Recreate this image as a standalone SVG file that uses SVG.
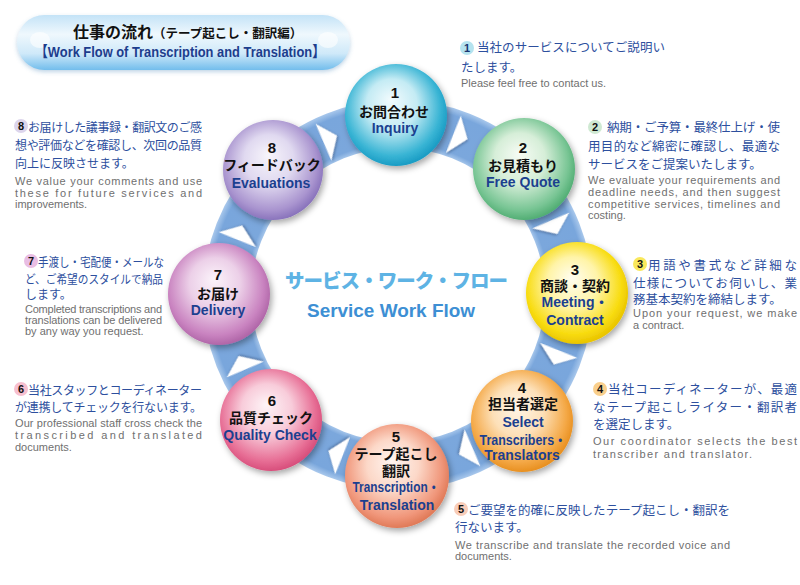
<svg xmlns="http://www.w3.org/2000/svg" width="800" height="585" viewBox="0 0 800 585">
<defs>
<style>
.nn{font-family:"Liberation Sans","Noto Sans CJK JP",sans-serif;font-weight:700;font-size:15px;fill:#111;text-anchor:middle}
.nj{font-family:"Noto Sans CJK JP",sans-serif;font-weight:700;font-size:14px;fill:#111;text-anchor:middle}
.ne{font-family:"Liberation Sans","Noto Sans CJK JP",sans-serif;font-weight:700;font-size:14px;fill:#1b3f8f;text-anchor:middle}
.dj{font-family:"Noto Sans CJK JP",sans-serif;font-size:12.5px;fill:#2d4f9e}
.dl{font-family:"Noto Sans CJK JP",sans-serif;font-size:12px;fill:#2d4f9e}
.de{font-family:"Liberation Sans",sans-serif;font-size:11px;fill:#707070}
.bn{font-family:"Liberation Sans",sans-serif;font-weight:700;font-size:11px;fill:#111;text-anchor:middle}
.arr{fill:#fff;filter:url(#ash)}
.node{filter:url(#sh)}
</style>
<filter id="sh" x="-30%" y="-30%" width="160%" height="160%"><feDropShadow dx="2" dy="3" stdDeviation="3" flood-color="#000" flood-opacity="0.35"/></filter>
<filter id="ash" x="-50%" y="-50%" width="200%" height="200%"><feDropShadow dx="1" dy="1.5" stdDeviation="1.2" flood-color="#33507a" flood-opacity="0.5"/></filter>
<filter id="tsh" x="-10%" y="-30%" width="120%" height="160%"><feDropShadow dx="0" dy="2" stdDeviation="2" flood-color="#4a86b8" flood-opacity="0.35"/></filter>
<radialGradient id="ring" gradientUnits="userSpaceOnUse" cx="398" cy="295" r="200">
<stop offset="0.735" stop-color="#a3c4ea"/><stop offset="0.76" stop-color="#7ba7dc"/><stop offset="0.94" stop-color="#79a6dc"/><stop offset="0.975" stop-color="#a9c8ec"/>
</radialGradient>
<linearGradient id="pill" x1="0" y1="0" x2="0" y2="1">
<stop offset="0" stop-color="#c4e3f7"/><stop offset="0.35" stop-color="#eff8fd"/><stop offset="0.7" stop-color="#cfe9f9"/><stop offset="1" stop-color="#72bdec"/>
</linearGradient>
<radialGradient id="g1" cx="0.47" cy="0.45" r="0.55" fx="0.45" fy="0.35"><stop offset="0" stop-color="#f2fbfd"/><stop offset="0.45" stop-color="#c4ebf4"/><stop offset="0.85" stop-color="#38b4d4"/><stop offset="1" stop-color="#1a9cc4"/></radialGradient>
<radialGradient id="g2" cx="0.47" cy="0.45" r="0.55" fx="0.45" fy="0.35"><stop offset="0" stop-color="#f6fbf4"/><stop offset="0.45" stop-color="#d6eed8"/><stop offset="0.85" stop-color="#78c594"/><stop offset="1" stop-color="#52ae74"/></radialGradient>
<radialGradient id="g3" cx="0.47" cy="0.45" r="0.55" fx="0.45" fy="0.35"><stop offset="0" stop-color="#fffdf0"/><stop offset="0.45" stop-color="#fff4a8"/><stop offset="0.85" stop-color="#f8dc10"/><stop offset="1" stop-color="#e9c400"/></radialGradient>
<radialGradient id="g4" cx="0.47" cy="0.45" r="0.55" fx="0.45" fy="0.35"><stop offset="0" stop-color="#fff6ea"/><stop offset="0.45" stop-color="#fde0b8"/><stop offset="0.85" stop-color="#f4a846"/><stop offset="1" stop-color="#e89020"/></radialGradient>
<radialGradient id="g5" cx="0.47" cy="0.45" r="0.55" fx="0.45" fy="0.35"><stop offset="0" stop-color="#fff5f0"/><stop offset="0.45" stop-color="#fcd8c8"/><stop offset="0.85" stop-color="#f0967a"/><stop offset="1" stop-color="#e07a58"/></radialGradient>
<radialGradient id="g6" cx="0.47" cy="0.45" r="0.55" fx="0.45" fy="0.35"><stop offset="0" stop-color="#fef4f7"/><stop offset="0.45" stop-color="#f8ccda"/><stop offset="0.85" stop-color="#e76e95"/><stop offset="1" stop-color="#d84f7c"/></radialGradient>
<radialGradient id="g7" cx="0.47" cy="0.45" r="0.55" fx="0.45" fy="0.35"><stop offset="0" stop-color="#fbf3fa"/><stop offset="0.45" stop-color="#ecd0e8"/><stop offset="0.85" stop-color="#c983c0"/><stop offset="1" stop-color="#b066a8"/></radialGradient>
<radialGradient id="g8" cx="0.47" cy="0.45" r="0.55" fx="0.45" fy="0.35"><stop offset="0" stop-color="#f7f5fb"/><stop offset="0.45" stop-color="#e0d9f0"/><stop offset="0.85" stop-color="#a994cf"/><stop offset="1" stop-color="#8a74bc"/></radialGradient>
<polygon id="tri" points="-1,17 1,-23 15,-3"/>
</defs>
<rect width="800" height="585" fill="#fff"/>

<g id="title">
<rect x="17" y="15" width="333" height="55" rx="27.5" fill="url(#pill)" filter="url(#tsh)"/>
<ellipse cx="40" cy="40" rx="10" ry="8" fill="#fff" opacity="0.6"/>
<ellipse cx="328" cy="40" rx="10" ry="8" fill="#fff" opacity="0.6"/>
<text x="73" y="38" style="font-family:'Noto Sans CJK JP',sans-serif;font-weight:700;font-size:16px;fill:#111">仕事の流れ<tspan style="font-size:12.5px">（テープ起こし・翻訳編）</tspan></text>
<text x="35" y="57" textLength="290" lengthAdjust="spacingAndGlyphs" style="font-family:'Liberation Sans','Noto Sans CJK JP',sans-serif;font-weight:700;font-size:15px;fill:#1d3d8d">【Work Flow of Transcription and Translation】</text>
</g>

<g id="connectors">
<circle cx="398" cy="295" r="171" fill="none" stroke="url(#ring)" stroke-width="48"/>
<use href="#tri" class="arr" transform="translate(398,295) rotate(19) translate(0,-167)"/>
<use href="#tri" class="arr" transform="translate(398,295) rotate(64) translate(0,-167)"/>
<use href="#tri" class="arr" transform="translate(398,295) rotate(109) translate(0,-167)"/>
<use href="#tri" class="arr" transform="translate(398,295) rotate(154) translate(0,-167)"/>
<use href="#tri" class="arr" transform="translate(398,295) rotate(199) translate(0,-167)"/>
<use href="#tri" class="arr" transform="translate(398,295) rotate(244) translate(0,-167)"/>
<use href="#tri" class="arr" transform="translate(398,295) rotate(289) translate(0,-167)"/>
<use href="#tri" class="arr" transform="translate(398,295) rotate(334) translate(0,-167)"/>
</g>

<g id="center">
<text x="285" y="288" textLength="223" style="font-family:'Noto Sans CJK JP',sans-serif;font-weight:900;font-size:19.5px;fill:#5eb3e4">サービス・ワーク・フロー</text>
<text x="307" y="317" textLength="168" lengthAdjust="spacingAndGlyphs" style="font-family:'Liberation Sans',sans-serif;font-weight:700;font-size:18px;fill:#3d8fd4">Service Work Flow</text>
</g>

<g id="node1"><circle class="node" cx="396" cy="115" r="51" fill="url(#g1)"/>
<text class="nn" x="395" y="98">1</text><text class="nj" x="394" y="117">お問合わせ</text><text class="ne" x="395" y="133">Inquiry</text></g>
<g id="node2"><circle class="node" cx="524" cy="169" r="51" fill="url(#g2)"/>
<text class="nn" x="523" y="153">2</text><text class="nj" x="523" y="171">お見積もり</text><text class="ne" x="523" y="187">Free Quote</text></g>
<g id="node3"><circle class="node" cx="577" cy="293" r="51" fill="url(#g3)"/>
<text class="nn" x="575" y="275">3</text><text class="nj" x="575" y="291">商談・契約</text><text class="ne" x="575" y="307">Meeting・</text><text class="ne" x="575" y="325">Contract</text></g>
<g id="node4"><circle class="node" cx="522" cy="421" r="51" fill="url(#g4)"/>
<text class="nn" x="522" y="393">4</text><text class="nj" x="523" y="409">担当者選定</text><text class="ne" x="523" y="427">Select</text><text class="ne" x="523" y="445" textLength="87" lengthAdjust="spacingAndGlyphs">Transcribers・</text><text class="ne" x="522" y="460">Translators</text></g>
<g id="node5"><circle class="node" cx="397" cy="476" r="52" fill="url(#g5)"/>
<text class="nn" x="396" y="442">5</text><text class="nj" x="396" y="459">テープ起こし</text><text class="nj" x="396" y="476">翻訳</text><text class="ne" x="396" y="492" textLength="87" lengthAdjust="spacingAndGlyphs">Transcription・</text><text class="ne" x="397" y="510">Translation</text></g>
<g id="node6"><circle class="node" cx="271" cy="420" r="51" fill="url(#g6)"/>
<text class="nn" x="272" y="406">6</text><text class="nj" x="271" y="423">品質チェック</text><text class="ne" x="270" y="440">Quality Check</text></g>
<g id="node7"><circle class="node" cx="219" cy="294" r="51" fill="url(#g7)"/>
<text class="nn" x="218" y="280">7</text><text class="nj" x="218" y="299">お届け</text><text class="ne" x="218" y="315">Delivery</text></g>
<g id="node8"><circle class="node" cx="273" cy="170" r="50" fill="url(#g8)"/>
<text class="nn" x="272" y="153">8</text><text class="nj" x="272" y="170">フィードバック</text><text class="ne" x="271" y="188">Evaluations</text></g>

<g id="desc1"><circle cx="467" cy="48" r="7" fill="#b5e3ef"/><text class="bn" x="467" y="52" style="fill:#1a3570">1</text>
<text class="dj" x="477" y="52" textLength="188">当社のサービスについてご説明い</text>
<text class="dj" x="461" y="72">たします。</text>
<text class="de" x="461" y="87" textLength="145">Please feel free to contact us.</text></g>

<g id="desc2"><circle cx="595" cy="127" r="7" fill="#cfe9d2"/><text class="bn" x="595" y="131">2</text>
<text class="dj" x="607" y="132" textLength="173">納期・ご予算・最終仕上げ・使</text>
<text class="dj" x="588" y="151" textLength="192">用目的など綿密に確認し、最適な</text>
<text class="dj" x="588" y="169">サービスをご提案いたします。</text>
<text class="de" x="588" y="184" textLength="192">We evaluate your requirements and</text>
<text class="de" x="588" y="196" textLength="192">deadline needs, and then suggest</text>
<text class="de" x="588" y="207.5" textLength="192">competitive services, timelines and</text>
<text class="de" x="588" y="219">costing.</text></g>

<g id="desc3"><circle cx="640" cy="264" r="7" fill="#f9e85c"/><text class="bn" x="640" y="268">3</text>
<text class="dj" x="648" y="270" textLength="149">用語や書式など詳細な</text>
<text class="dj" x="633" y="288" textLength="164">仕様についてお伺いし、業</text>
<text class="dj" x="633" y="304">務基本契約を締結します。</text>
<text class="de" x="633" y="317" textLength="164">Upon your request, we make</text>
<text class="de" x="633" y="329">a contract.</text></g>

<g id="desc4"><circle cx="600" cy="389" r="7" fill="#f9cf8c"/><text class="bn" x="600" y="393">4</text>
<text class="dj" x="608" y="394" textLength="189">当社コーディネーターが、最適</text>
<text class="dj" x="593" y="412" textLength="204">なテープ起こしライター・翻訳者</text>
<text class="dj" x="593" y="429">を選定します。</text>
<text class="de" x="593" y="445" textLength="204">Our coordinator selects the best</text>
<text class="de" x="593" y="458" textLength="159">transcriber and translator.</text></g>

<g id="desc5"><circle cx="461" cy="509" r="7" fill="#f9cdb9"/><text class="bn" x="461" y="513">5</text>
<text class="dj" x="468" y="515" textLength="262">ご要望を的確に反映したテープ起こし・翻訳を</text>
<text class="dj" x="455" y="532">行ないます。</text>
<text class="de" x="455" y="549" textLength="275">We transcribe and translate the recorded voice and</text>
<text class="de" x="455" y="560">documents.</text></g>

<g id="desc6"><circle cx="21" cy="389" r="7" fill="#f7bfcf"/><text class="bn" x="21" y="393">6</text>
<text class="dl" x="28" y="395" textLength="174">当社スタッフとコーディネーター</text>
<text class="dl" x="15" y="412" textLength="187">が連携してチェックを行ないます。</text>
<text class="de" x="15" y="427" textLength="187">Our professional staff cross check the</text>
<text class="de" x="15" y="439" textLength="187">transcribed and translated</text>
<text class="de" x="15" y="450.5">documents.</text></g>

<g id="desc7"><circle cx="31" cy="261" r="7" fill="#e9bde3"/><text class="bn" x="31" y="265">7</text>
<text class="dl" x="38" y="267" textLength="126" lengthAdjust="spacingAndGlyphs">手渡し・宅配便・メールな</text>
<text class="dl" x="25" y="284" textLength="138" lengthAdjust="spacingAndGlyphs">ど、ご希望のスタイルで納品</text>
<text class="dl" x="25" y="299">します。</text>
<text class="de" x="25" y="313" textLength="137">Completed transcriptions and</text>
<text class="de" x="25" y="324" textLength="137">translations can be delivered</text>
<text class="de" x="25" y="335">by any way you request.</text></g>

<g id="desc8"><circle cx="21" cy="126" r="7" fill="#dcd5ec"/><text class="bn" x="21" y="130">8</text>
<text class="dl" x="28" y="132" textLength="174">お届けした議事録・翻訳文のご感</text>
<text class="dl" x="15" y="150" textLength="187">想や評価などを確認し、次回の品質</text>
<text class="dl" x="15" y="168">向上に反映させます。</text>
<text class="de" x="15" y="185" textLength="187">We value your comments and use</text>
<text class="de" x="15" y="196.5" textLength="187">these for future services and</text>
<text class="de" x="15" y="208">improvements.</text></g>
</svg>
